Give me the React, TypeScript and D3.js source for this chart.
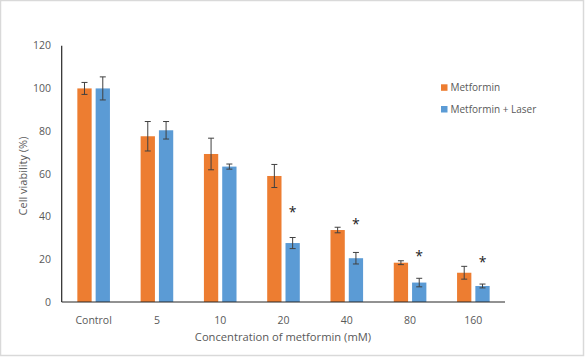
import React from "react";
import * as d3 from "d3";

const categories = ["Control", "5", "10", "20", "40", "80", "160"];
const metformin = [100, 77.6, 69.3, 59.0, 33.7, 18.4, 13.7];
const metforminErr = [2.8, 6.9, 7.4, 5.4, 1.3, 0.9, 3.0];
const laser = [100, 80.4, 63.4, 27.6, 20.5, 9.1, 7.5];
const laserErr = [5.4, 4.1, 1.2, 2.6, 2.7, 2.0, 0.9];
const starLevel = [null, null, null, 43.9, 38.2, 22.9, 20.1];
const yTicks = [0, 20, 40, 60, 80, 100, 120];
const seriesNames = ["Metformin", "Metformin + Laser"];
const colors = ["#ED7D31", "#5B9BD5"];

const W = 585, H = 357;
const FONT = "'Open Sans', 'Liberation Sans', sans-serif";
const TEXT = "#595959";

export default function App() {
  const x = d3.scaleBand<string>().domain(categories).range([62, 505]);
  const y = d3.scaleLinear().domain([0, 120]).range([302, 45.7]);
  const barW = 14.3;
  const gap = 4;
  const series = [
    { vals: metformin, err: metforminErr },
    { vals: laser, err: laserErr },
  ];
  return (
    <svg width={W} height={H} style={{ position: "fixed", left: 0, top: 0 }} fontFamily={FONT}>
      <rect x={0.5} y={0.5} width={583} height={355} fill="#fff" stroke="#d9d9d9" strokeWidth={1.5} />
      {yTicks.map((t) => (
        <text key={t} x={51} y={y(t)} dy="0.35em" textAnchor="end" fontSize={10.5} fill={TEXT}>
          {t}
        </text>
      ))}
      {categories.map((c, i) => {
        const cx = x(c)! + x.bandwidth() / 2;
        return (
          <g key={c}>
            {series.map((s, j) => {
              const bx = j === 0 ? cx - gap / 2 - barW : cx + gap / 2;
              const v = s.vals[i];
              const e = s.err[i];
              const mx = bx + barW / 2;
              return (
                <g key={j}>
                  <rect x={bx} y={y(v)} width={barW} height={y(0) - y(v)} fill={colors[j]} />
                  <line x1={mx} x2={mx} y1={y(v + e)} y2={y(v - e)} stroke="#404040" strokeWidth={1} />
                  <line x1={mx - 3} x2={mx + 3} y1={y(v + e)} y2={y(v + e)} stroke="#404040" strokeWidth={1} />
                  <line x1={mx - 3} x2={mx + 3} y1={y(v - e)} y2={y(v - e)} stroke="#404040" strokeWidth={1} />
                </g>
              );
            })}
            {starLevel[i] !== null && (
              <text x={cx + gap / 2 + barW / 2} y={y(starLevel[i] as number)} dy="0.6em" textAnchor="middle" fontSize={14} fill="#222">
                *
              </text>
            )}
            <text x={cx} y={320} dy="0.35em" textAnchor="middle" fontSize={10.5} fill={TEXT}>
              {c}
            </text>
          </g>
        );
      })}
      <line x1={61.7} x2={61.7} y1={y(120)} y2={y(0)} stroke="#262626" strokeWidth={1.2} />
      <line x1={61.7} x2={505} y1={y(0)} y2={y(0)} stroke="#262626" strokeWidth={1.2} />
      <text x={283} y={337} dy="0.35em" textAnchor="middle" fontSize={11.2} fill={TEXT}>
        Concentration of metformin (mM)
      </text>
      <text transform={`translate(23,176) rotate(-90)`} dy="0.35em" textAnchor="middle" fontSize={11} fill={TEXT}>
        Cell viability (%)
      </text>
      {seriesNames.map((n, j) => (
        <g key={n} transform={`translate(441,${84.3 + j * 21.7})`}>
          <rect x={0} y={0} width={6.5} height={6.5} fill={colors[j]} />
          <text x={9.5} y={3.3} dy="0.35em" fontSize={10} fill={TEXT}>
            {n}
          </text>
        </g>
      ))}
    </svg>
  );
}
